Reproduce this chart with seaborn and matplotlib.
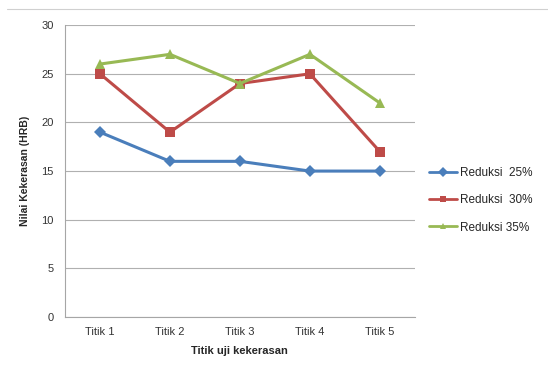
import pandas as pd
import matplotlib.pyplot as plt
import seaborn as sns
from matplotlib.lines import Line2D

# Data
titik = ['Titik 1', 'Titik 2', 'Titik 3', 'Titik 4', 'Titik 5']
reduksi_25 = [19, 16, 16, 15, 15]
reduksi_30 = [25, 19, 24, 25, 17]
reduksi_35 = [26, 27, 24, 27, 22]
series_names = ['Reduksi  25%', 'Reduksi  30%', 'Reduksi 35%']

df = pd.DataFrame({
    'Titik': titik * 3,
    'Nilai': reduksi_25 + reduksi_30 + reduksi_35,
    'Seri': [series_names[0]] * 5 + [series_names[1]] * 5 + [series_names[2]] * 5,
})

sns.set_style('white')
plt.rcParams['font.family'] = ['Liberation Sans', 'DejaVu Sans']

colors = {series_names[0]: '#4a7ebb', series_names[1]: '#be4b48', series_names[2]: '#98b954'}
markers = {series_names[0]: 'D', series_names[1]: 's', series_names[2]: '^'}

fig = plt.figure(figsize=(5.48, 3.81), dpi=100)
ax = fig.add_axes([0.1186, 0.168, 0.6384, 0.766])

sns.lineplot(data=df, x='Titik', y='Nilai', hue='Seri', style='Seri',
             palette=colors, markers=markers, dashes=False, linewidth=2.2,
             markersize=6.5, markeredgewidth=0, ax=ax, sort=False)

ax.set_ylim(0, 30)
ax.set_xlim(-0.5, 4.5)
ax.set_yticks(range(0, 31, 5))
ax.yaxis.grid(True, color='#b0b0b0', linewidth=0.8)
ax.set_axisbelow(True)
for side in ['top', 'right']:
    ax.spines[side].set_visible(False)
ax.spines['left'].set_color('#a6a6a6')
ax.spines['bottom'].set_color('#a6a6a6')
ax.tick_params(axis='x', length=0, labelsize=8, colors='#333333', pad=7)
ax.tick_params(axis='y', length=4, width=0.8, color='#b0b0b0', labelsize=8,
               labelcolor='#333333', pad=4)
ax.set_xlabel('Titik uji kekerasan', fontsize=8, fontweight='bold', labelpad=7)
ax.set_ylabel('Nilai Kekerasan (HRB)', fontsize=7.5, fontweight='bold', labelpad=8)

handles, labels = ax.get_legend_handles_labels()
for h in handles:
    h.set_markersize(5)
    h.set_linewidth(2)
ax.legend(handles, labels, loc='center left', bbox_to_anchor=(1.01, 0.40),
          frameon=False, fontsize=8.5, handlelength=2.4, labelspacing=1.3,
          handletextpad=0.2)

# thin caption separator at the top of the crop
fig.add_artist(Line2D([0.013, 1.0], [0.976, 0.976], color='#d0d0d0', linewidth=0.8))

fig.savefig('out.png', dpi=100)
